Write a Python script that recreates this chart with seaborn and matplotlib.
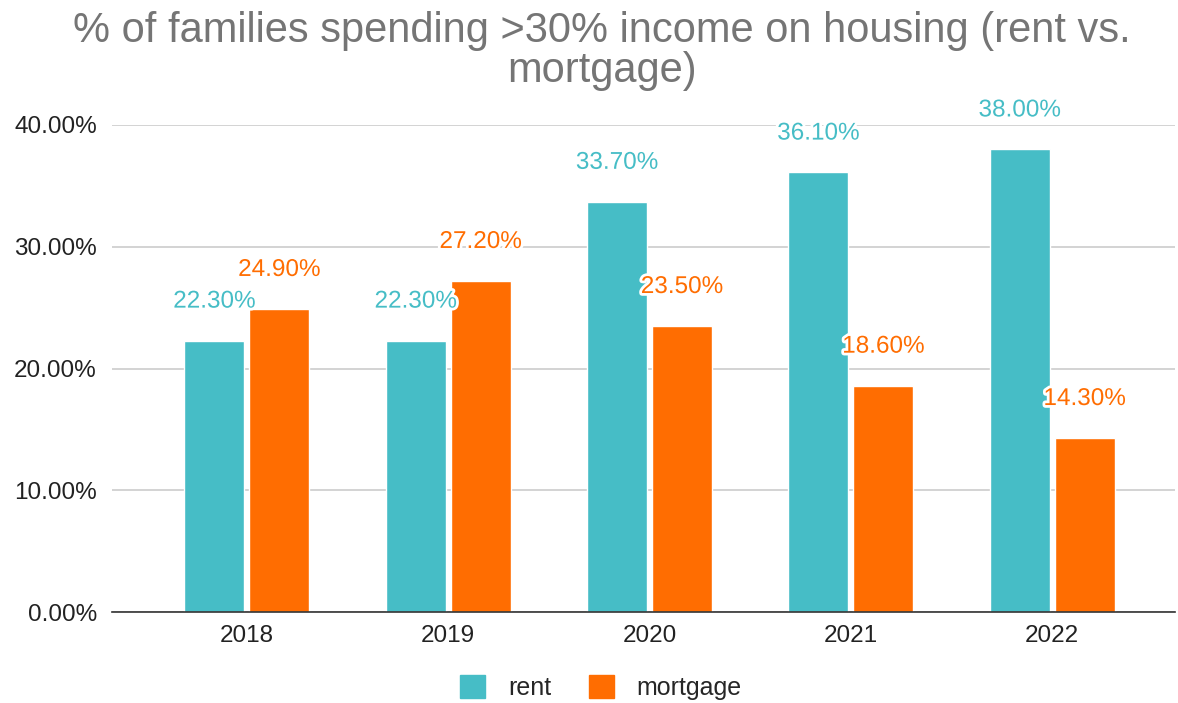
import pandas as pd
import matplotlib.pyplot as plt
import matplotlib.patheffects as pe
import seaborn as sns

years = ["2018", "2019", "2020", "2021", "2022"]
rent = [22.3, 22.3, 33.7, 36.1, 38.0]
mortgage = [24.9, 27.2, 23.5, 18.6, 14.3]
series_names = ["rent", "mortgage"]
colors = ["#46BDC6", "#FF6D01"]

# long format for seaborn
df = pd.DataFrame({
    "year": years * 2,
    "value": rent + mortgage,
    "kind": ["rent"] * len(years) + ["mortgage"] * len(years),
})

sns.set_style("white")
plt.rcParams["font.family"] = ["Liberation Sans", "DejaVu Sans"]

fig = plt.figure(figsize=(11.78, 7.03), dpi=100)
ax = fig.add_axes([0.0951, 0.1294, 0.9024, 0.6928])

sns.barplot(data=df, x="year", y="value", hue="kind", hue_order=series_names,
            palette=colors, width=0.645, gap=0.077, saturation=1, ax=ax,
            legend=False, errorbar=None)

ax.set_ylim(0, 40)
ax.set_xlim(-0.67, 4.61)
ax.set_yticks([0, 10, 20, 30, 40])
ax.set_yticklabels([f"{v:.2f}%" for v in [0, 10, 20, 30, 40]])
ax.yaxis.grid(True, color="#cccccc", linewidth=1.2)
ax.set_axisbelow(True)
for s in ["top", "right", "left"]:
    ax.spines[s].set_visible(False)
ax.spines["bottom"].set_color("#333333")
ax.spines["bottom"].set_linewidth(1.2)
ax.tick_params(axis="both", length=0, labelsize=17.5, labelcolor="#222222")
ax.tick_params(axis="y", pad=11)
ax.tick_params(axis="x", pad=9)
ax.set_xlabel("")
ax.set_ylabel("")

# value labels above each bar
for container, color in zip(ax.containers, colors):
    for bar in container:
        h = bar.get_height()
        ax.annotate(f"{h:.2f}%", (bar.get_x() + bar.get_width() / 2, h),
                    xytext=(0, 28), textcoords="offset points",
                    ha="center", va="center", fontsize=17.5, color=color,
                    clip_on=False,
                    path_effects=[pe.withStroke(linewidth=4, foreground="white")])

fig.text(0.511, 0.928, "% of families spending >30% income on housing (rent vs.\nmortgage)",
         ha="center", va="center", fontsize=30, color="#757575", linespacing=1.0)

handles = [plt.Rectangle((0, 0), 1, 1, color=c) for c in colors]
fig.legend(handles, series_names, loc="center", bbox_to_anchor=(0.51, 0.022),
           ncol=2, frameon=False, fontsize=18, handlelength=1.0, handleheight=1.0,
           columnspacing=1.5, handletextpad=0.9)

fig.savefig("out.png", dpi=100)
